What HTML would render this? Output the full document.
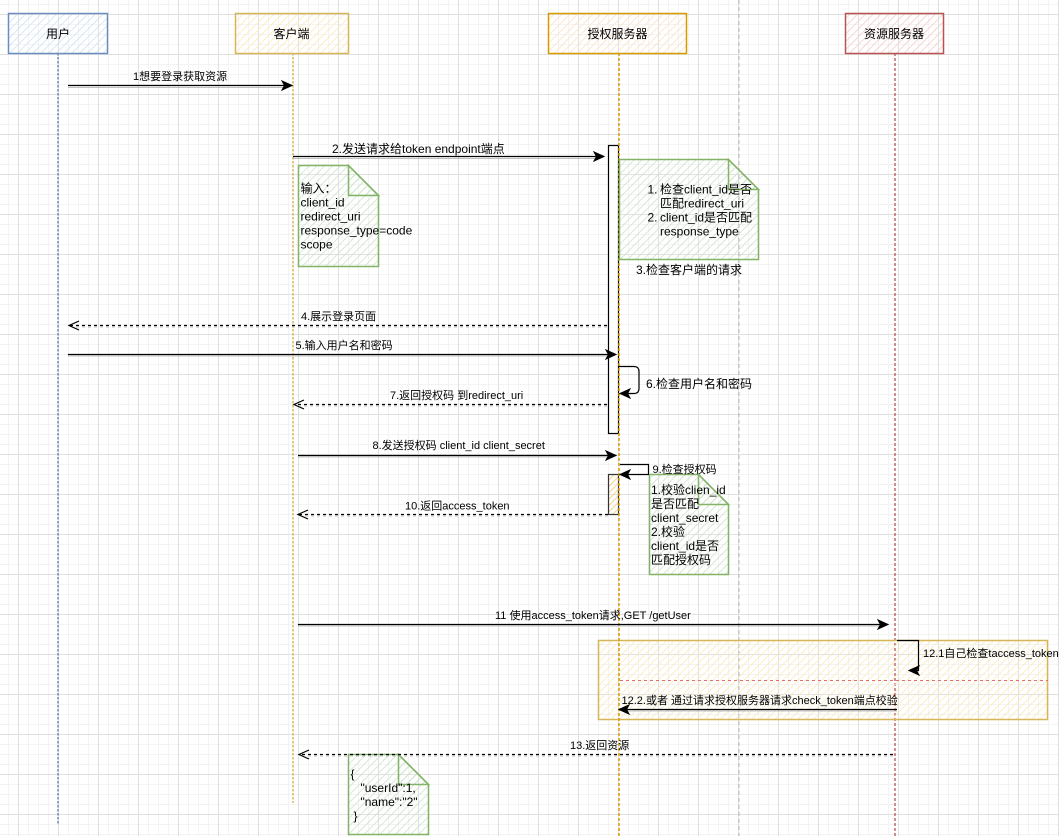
<!DOCTYPE html>
<html><head><meta charset="utf-8">
<style>
html,body{margin:0;padding:0;background:#fff;}
svg{display:block;}
text{font-family:"Liberation Sans","Noto Sans CJK SC",sans-serif;fill:#000;}
</style></head>
<body>
<svg width="1059" height="836" viewBox="0 0 1059 836" xmlns="http://www.w3.org/2000/svg">
<defs>
  <pattern id="grid" x="18" y="14" width="40" height="40" patternUnits="userSpaceOnUse">
    <path d="M10.5 0V40M20.5 0V40M30.5 0V40M0 10.5H40M0 20.5H40M0 30.5H40" stroke="#f3f3f3" stroke-width="1" fill="none"/>
    <path d="M0.5 0V40M0 0.5H40" stroke="#e0e0e0" stroke-width="1" fill="none"/>
  </pattern>
  <pattern id="hBlue" width="5.5" height="5.5" patternUnits="userSpaceOnUse" patternTransform="rotate(45)">
    <line x1="0" y1="0" x2="0" y2="5.5" stroke="#cfe0f8" stroke-width="1.6"/>
  </pattern>
  <pattern id="hYel" width="5.5" height="5.5" patternUnits="userSpaceOnUse" patternTransform="rotate(45)">
    <line x1="0" y1="0" x2="0" y2="5.5" stroke="#fbe9b6" stroke-width="1.6"/>
  </pattern>
  <pattern id="hOra" width="5.5" height="5.5" patternUnits="userSpaceOnUse" patternTransform="rotate(45)">
    <line x1="0" y1="0" x2="0" y2="5.5" stroke="#fde0c2" stroke-width="1.6"/>
  </pattern>
  <pattern id="hRed" width="5.5" height="5.5" patternUnits="userSpaceOnUse" patternTransform="rotate(45)">
    <line x1="0" y1="0" x2="0" y2="5.5" stroke="#f6cbc9" stroke-width="1.6"/>
  </pattern>
  <pattern id="hGrn" width="5.5" height="5.5" patternUnits="userSpaceOnUse" patternTransform="rotate(45)">
    <line x1="0" y1="0" x2="0" y2="5.5" stroke="#cde3cb" stroke-width="1.6"/>
  </pattern>
  <pattern id="hBar" width="4.5" height="4.5" patternUnits="userSpaceOnUse" patternTransform="rotate(45)">
    <line x1="0" y1="0" x2="0" y2="4.5" stroke="#f3c774" stroke-width="1.6"/>
  </pattern>
</defs>

<rect width="1059" height="836" fill="#fff"/>
<rect width="1059" height="836" fill="url(#grid)"/>

<!-- grey dashed separator -->
<line x1="739" y1="0" x2="739" y2="836" stroke="#b8b8b8" stroke-width="1" stroke-dasharray="4 3"/>

<!-- lifelines -->
<line x1="58" y1="53" x2="58" y2="824" stroke="#6c8ebf" stroke-width="1.5" stroke-dasharray="2.5 1.5"/>
<line x1="293" y1="53" x2="293" y2="803" stroke="#d6b656" stroke-width="1.5" stroke-dasharray="2.5 1.5"/>
<line x1="895" y1="53" x2="895" y2="836" stroke="#b85450" stroke-width="1.3" stroke-dasharray="3 2"/>

<!-- participant boxes -->
<rect x="8.5" y="13.5" width="99" height="40" fill="url(#hBlue)" stroke="#6c8ebf" stroke-width="1.5"/>
<text x="58" y="38" font-size="12" text-anchor="middle">用户</text>
<rect x="235.5" y="13.5" width="113" height="40" fill="url(#hYel)" stroke="#d6b656" stroke-width="1.5"/>
<text x="291.5" y="38" font-size="12" text-anchor="middle">客户端</text>
<rect x="548.5" y="13.5" width="138" height="40" fill="url(#hOra)" stroke="#d79b00" stroke-width="1.5"/>
<text x="617.5" y="38" font-size="12" text-anchor="middle">授权服务器</text>
<rect x="845.5" y="13.5" width="98" height="40" fill="url(#hRed)" stroke="#b85450" stroke-width="1.5"/>
<text x="894" y="38" font-size="12" text-anchor="middle">资源服务器</text>

<!-- alt box -->
<rect x="598.5" y="640.5" width="449" height="79" fill="url(#hYel)" stroke="#d6b656" stroke-width="1.5"/>
<line x1="620" y1="680.5" x2="1048" y2="680.5" stroke="#e07070" stroke-width="1" stroke-dasharray="3 3"/>

<!-- activation bars -->
<rect x="608.5" y="145.5" width="10" height="288" fill="#fff" stroke="#000" stroke-width="1.2"/>
<rect x="608.5" y="474.5" width="10" height="40" fill="url(#hBar)" stroke="#333" stroke-width="1.2"/>

<!-- auth lifeline -->
<line x1="619" y1="53" x2="619" y2="836" stroke="#d79b00" stroke-width="1.5" stroke-dasharray="3 2"/>

<!-- notes -->
<g stroke="#82b366" stroke-width="1.5">
  <path d="M298.5 165.5H348.5L378.5 195.5V266.5H298.5Z" fill="url(#hGrn)"/>
  <path d="M348.5 165.5V195.5H378.5Z" fill="url(#hGrn)"/>
  <path d="M619.5 159.5H728.5L758.5 189.5V259.5H619.5Z" fill="url(#hGrn)"/>
  <path d="M728.5 159.5V189.5H758.5Z" fill="url(#hGrn)"/>
  <path d="M649.5 474.5H698.5L728.5 504.5V574.5H649.5Z" fill="url(#hGrn)"/>
  <path d="M698.5 474.5V504.5H728.5Z" fill="url(#hGrn)"/>
  <path d="M348.5 754.5H398.5L428.5 784.5V834.5H348.5Z" fill="url(#hGrn)"/>
  <path d="M398.5 754.5V784.5H428.5Z" fill="url(#hGrn)"/>
</g>

<!-- note texts -->
<g font-size="12">
  <text x="300.5" y="192.5">输入：</text>
  <text x="300.5" y="206.5">client_id</text>
  <text x="300.5" y="220.5">redirect_uri</text>
  <text x="300.5" y="234.5">response_type=code</text>
  <text x="300.5" y="248.5">scope</text>

  <text x="647.5" y="193.5">1.</text>
  <text x="660" y="193.5">检查client_id是否</text>
  <text x="660" y="207.5">匹配redirect_uri</text>
  <text x="647.5" y="221.5">2.</text>
  <text x="660" y="221.5">client_id是否匹配</text>
  <text x="660" y="235.5">response_type</text>

  <text x="651" y="494">1.校验clien_id</text>
  <text x="651" y="508">是否匹配</text>
  <text x="651" y="522">client_secret</text>
  <text x="651" y="536">2.校验</text>
  <text x="651" y="550">client_id是否</text>
  <text x="651" y="564">匹配授权码</text>

  <text x="350.5" y="778">{</text>
  <text x="360.5" y="792">"userId":1,</text>
  <text x="360.5" y="806">"name":"2"</text>
  <text x="353.5" y="820">}</text>
</g>

<!-- arrow shadows -->
<g stroke="#9a9a9a" stroke-width="1" fill="none" opacity="0.6">
  <path d="M68 87.5H284"/>
  <path d="M293 158.5H596"/>
  <path d="M607 327H75" stroke-dasharray="3 3"/>
  <path d="M68 356H608"/>
  <path d="M607 406H300" stroke-dasharray="3 3"/>
  <path d="M298 457H608"/>
  <path d="M608 516H304" stroke-dasharray="3 3"/>
  <path d="M298 626H880"/>
  <path d="M897 711H627"/>
  <path d="M893 756H305" stroke-dasharray="3 3"/>
</g>

<!-- arrows -->
<g stroke="#000" stroke-width="1.2" fill="none">
  <path d="M68 85.5H284"/>
  <path d="M293 156.5H596"/>
  <path d="M607 325.5H70" stroke-dasharray="3 3"/>
  <path d="M68 354.5H608"/>
  <path d="M619 366.5H634Q639 366.5 639 371.5V388.5Q639 393.5 634 393.5H628"/>
  <path d="M607 404.5H295" stroke-dasharray="3 3"/>
  <path d="M298 455.5H608"/>
  <path d="M620 464.5H648.5V474.5H628"/>
  <path d="M608 514.5H299" stroke-dasharray="3 3"/>
  <path d="M298 624.5H880"/>
  <path d="M897 640.5H918.5V670.5H917"/>
  <path d="M897 709.5H627"/>
  <path d="M893 754.5H300" stroke-dasharray="3 3"/>
  <!-- open arrowheads -->
  <path d="M79 321L69 325.5L79 330"/>
  <path d="M304 400L294 404.5L304 409"/>
  <path d="M308 510L298 514.5L308 519"/>
  <path d="M309 750L299 754.5L309 759"/>
</g>
<g fill="#000" stroke="#000" stroke-width="1">
  <polygon points="292,85.5 282,81 284.5,85.5 282,90"/>
  <polygon points="604,156.5 594,152 596.5,156.5 594,161"/>
  <polygon points="616,354.5 606,350 608.5,354.5 606,359"/>
  <polygon points="620,393.5 630,389 627.5,393.5 630,398"/>
  <polygon points="616,455.5 606,451 608.5,455.5 606,460"/>
  <polygon points="620,474.5 630,470 627.5,474.5 630,479"/>
  <polygon points="888,624.5 878,620 880.5,624.5 878,629"/>
  <polygon points="909,670.5 919,666 916.5,670.5 919,675"/>
  <polygon points="619,709.5 629,705 626.5,709.5 629,714"/>
</g>

<!-- message labels -->
<g font-size="11">
  <text x="133" y="80">1想要登录获取资源</text>
  <text x="332" y="153" font-size="12">2.发送请求给token endpoint端点</text>
  <text x="636" y="274" font-size="12">3.检查客户端的请求</text>
  <text x="301" y="320">4.展示登录页面</text>
  <text x="295.5" y="349">5.输入用户名和密码</text>
  <text x="646" y="388" font-size="12">6.检查用户名和密码</text>
  <text x="390" y="399">7.返回授权码 到redirect_uri</text>
  <text x="372.5" y="449">8.发送授权码 client_id client_secret</text>
  <text x="652.5" y="473">9.检查授权码</text>
  <text x="405" y="509.5">10.返回access_token</text>
  <text x="495" y="619">11 使用access_token请求,GET /getUser</text>
  <text x="923" y="657">12.1自己检查taccess_token</text>
  <text x="621.5" y="704">12.2.或者 通过请求授权服务器请求check_token端点校验</text>
  <text x="570" y="749">13.返回资源</text>
</g>
</svg>
</body></html>
